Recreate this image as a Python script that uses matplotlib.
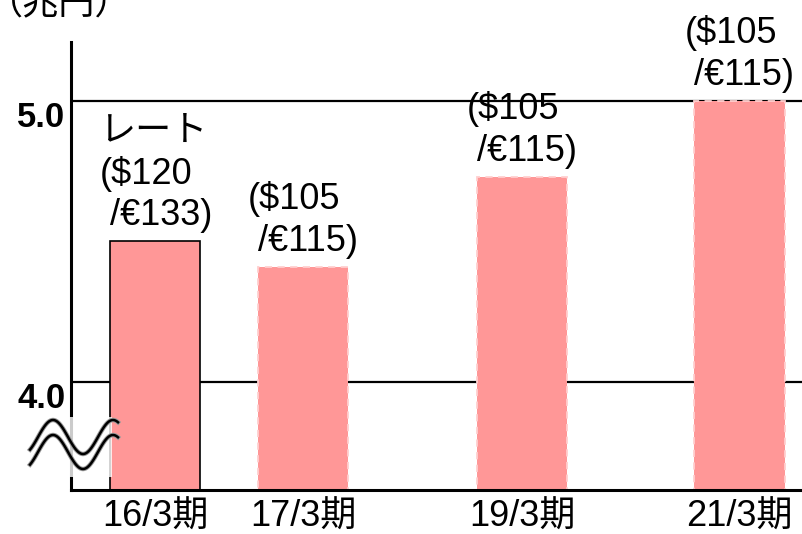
# 売上高の推移（為替レート注記つき）
import matplotlib.pyplot as plt
import matplotlib.patheffects as pe
import numpy as np

plt.rcParams['font.family'] = ['Liberation Sans', 'Noto Sans CJK JP', 'DejaVu Sans']

# data
periods = ['16/3期', '17/3期', '19/3期', '21/3期']
values = [4.50, 4.41, 4.73, 5.00]
rate_notes = ['レート\n($120\n /€133)', '($105\n /€115)', '($105\n /€115)', '($105\n /€115)']
y_ticks = [4.0, 5.0]
y_tick_labels = ['4.0', '5.0']
unit_label = '（兆円）'
actual = [True, False, False, False]  # 実績 / 計画

# layout
x_pos = [0, 1, 2.48, 3.95]
bar_w = 0.61
bar_color = '#FF9797'

W, H = 802, 534
fig = plt.figure(figsize=(W / 100, H / 100), dpi=100)
ax = fig.add_axes([71 / W, 44 / H, 731 / W, 448 / H])

for x, v, is_actual in zip(x_pos, values, actual):
    if is_actual:
        ax.bar(x, v, width=bar_w, color=bar_color, edgecolor='black', linewidth=1.2, zorder=3)
    else:
        ax.bar(x, v, width=bar_w, color=bar_color, edgecolor='#FFCFCF', linewidth=1.3,
               linestyle=(0, (4, 3)), zorder=3)

for x, v, note in zip(x_pos, values, rate_notes):
    ax.annotate(note, xy=(x - bar_w / 2, v), xytext=(-10, 8), textcoords='offset pixels',
                ha='left', va='bottom', fontsize=26, linespacing=1.25, zorder=4,
                annotation_clip=False)

ax.set_xlim(-0.568, 4.372)
ax.set_ylim(3.614, 5.21)

for y in y_ticks:
    ax.axhline(y, color='black', linewidth=1.6, zorder=1)

ax.set_yticks(y_ticks)
ax.set_yticklabels(y_tick_labels, fontsize=25, fontweight='bold')
for lab in ax.get_yticklabels():
    lab.set_va('top')
ax.tick_params(axis='y', length=0, pad=4)

ax.set_xticks(x_pos)
ax.set_xticklabels(periods, fontsize=26)
ax.tick_params(axis='x', length=0, pad=7)

for s in ['top', 'right']:
    ax.spines[s].set_visible(False)
ax.spines['left'].set_linewidth(2.2)
ax.spines['bottom'].set_linewidth(2.2)
ax.spines['left'].set_zorder(5)
ax.spines['bottom'].set_zorder(5)

# 省略記号（波線）
def fx(px):
    return px / W

def fy(py):
    return (H - py) / H

cover = plt.Rectangle((fx(69), fy(477)), (112 - 69) / W, (477 - 417) / H,
                      transform=fig.transFigure, facecolor='white', alpha=0.8,
                      edgecolor='none', zorder=10)
fig.patches.append(cover)

xs = np.linspace(30, 118, 100)
for off in [0, 15]:
    ys = 437 + off - 17 * np.cos(2 * np.pi * (xs - 53) / 60)
    fig.add_artist(plt.Line2D(fx(xs), fy(ys), color='black', linewidth=1.8, zorder=11,
                              path_effects=[pe.Stroke(linewidth=3.2, foreground='#999999'),
                                            pe.Normal()]))

fig.text(fx(-13), fy(14), unit_label, fontsize=26, ha='left', va='baseline')

fig.savefig('out.png', dpi=100)
